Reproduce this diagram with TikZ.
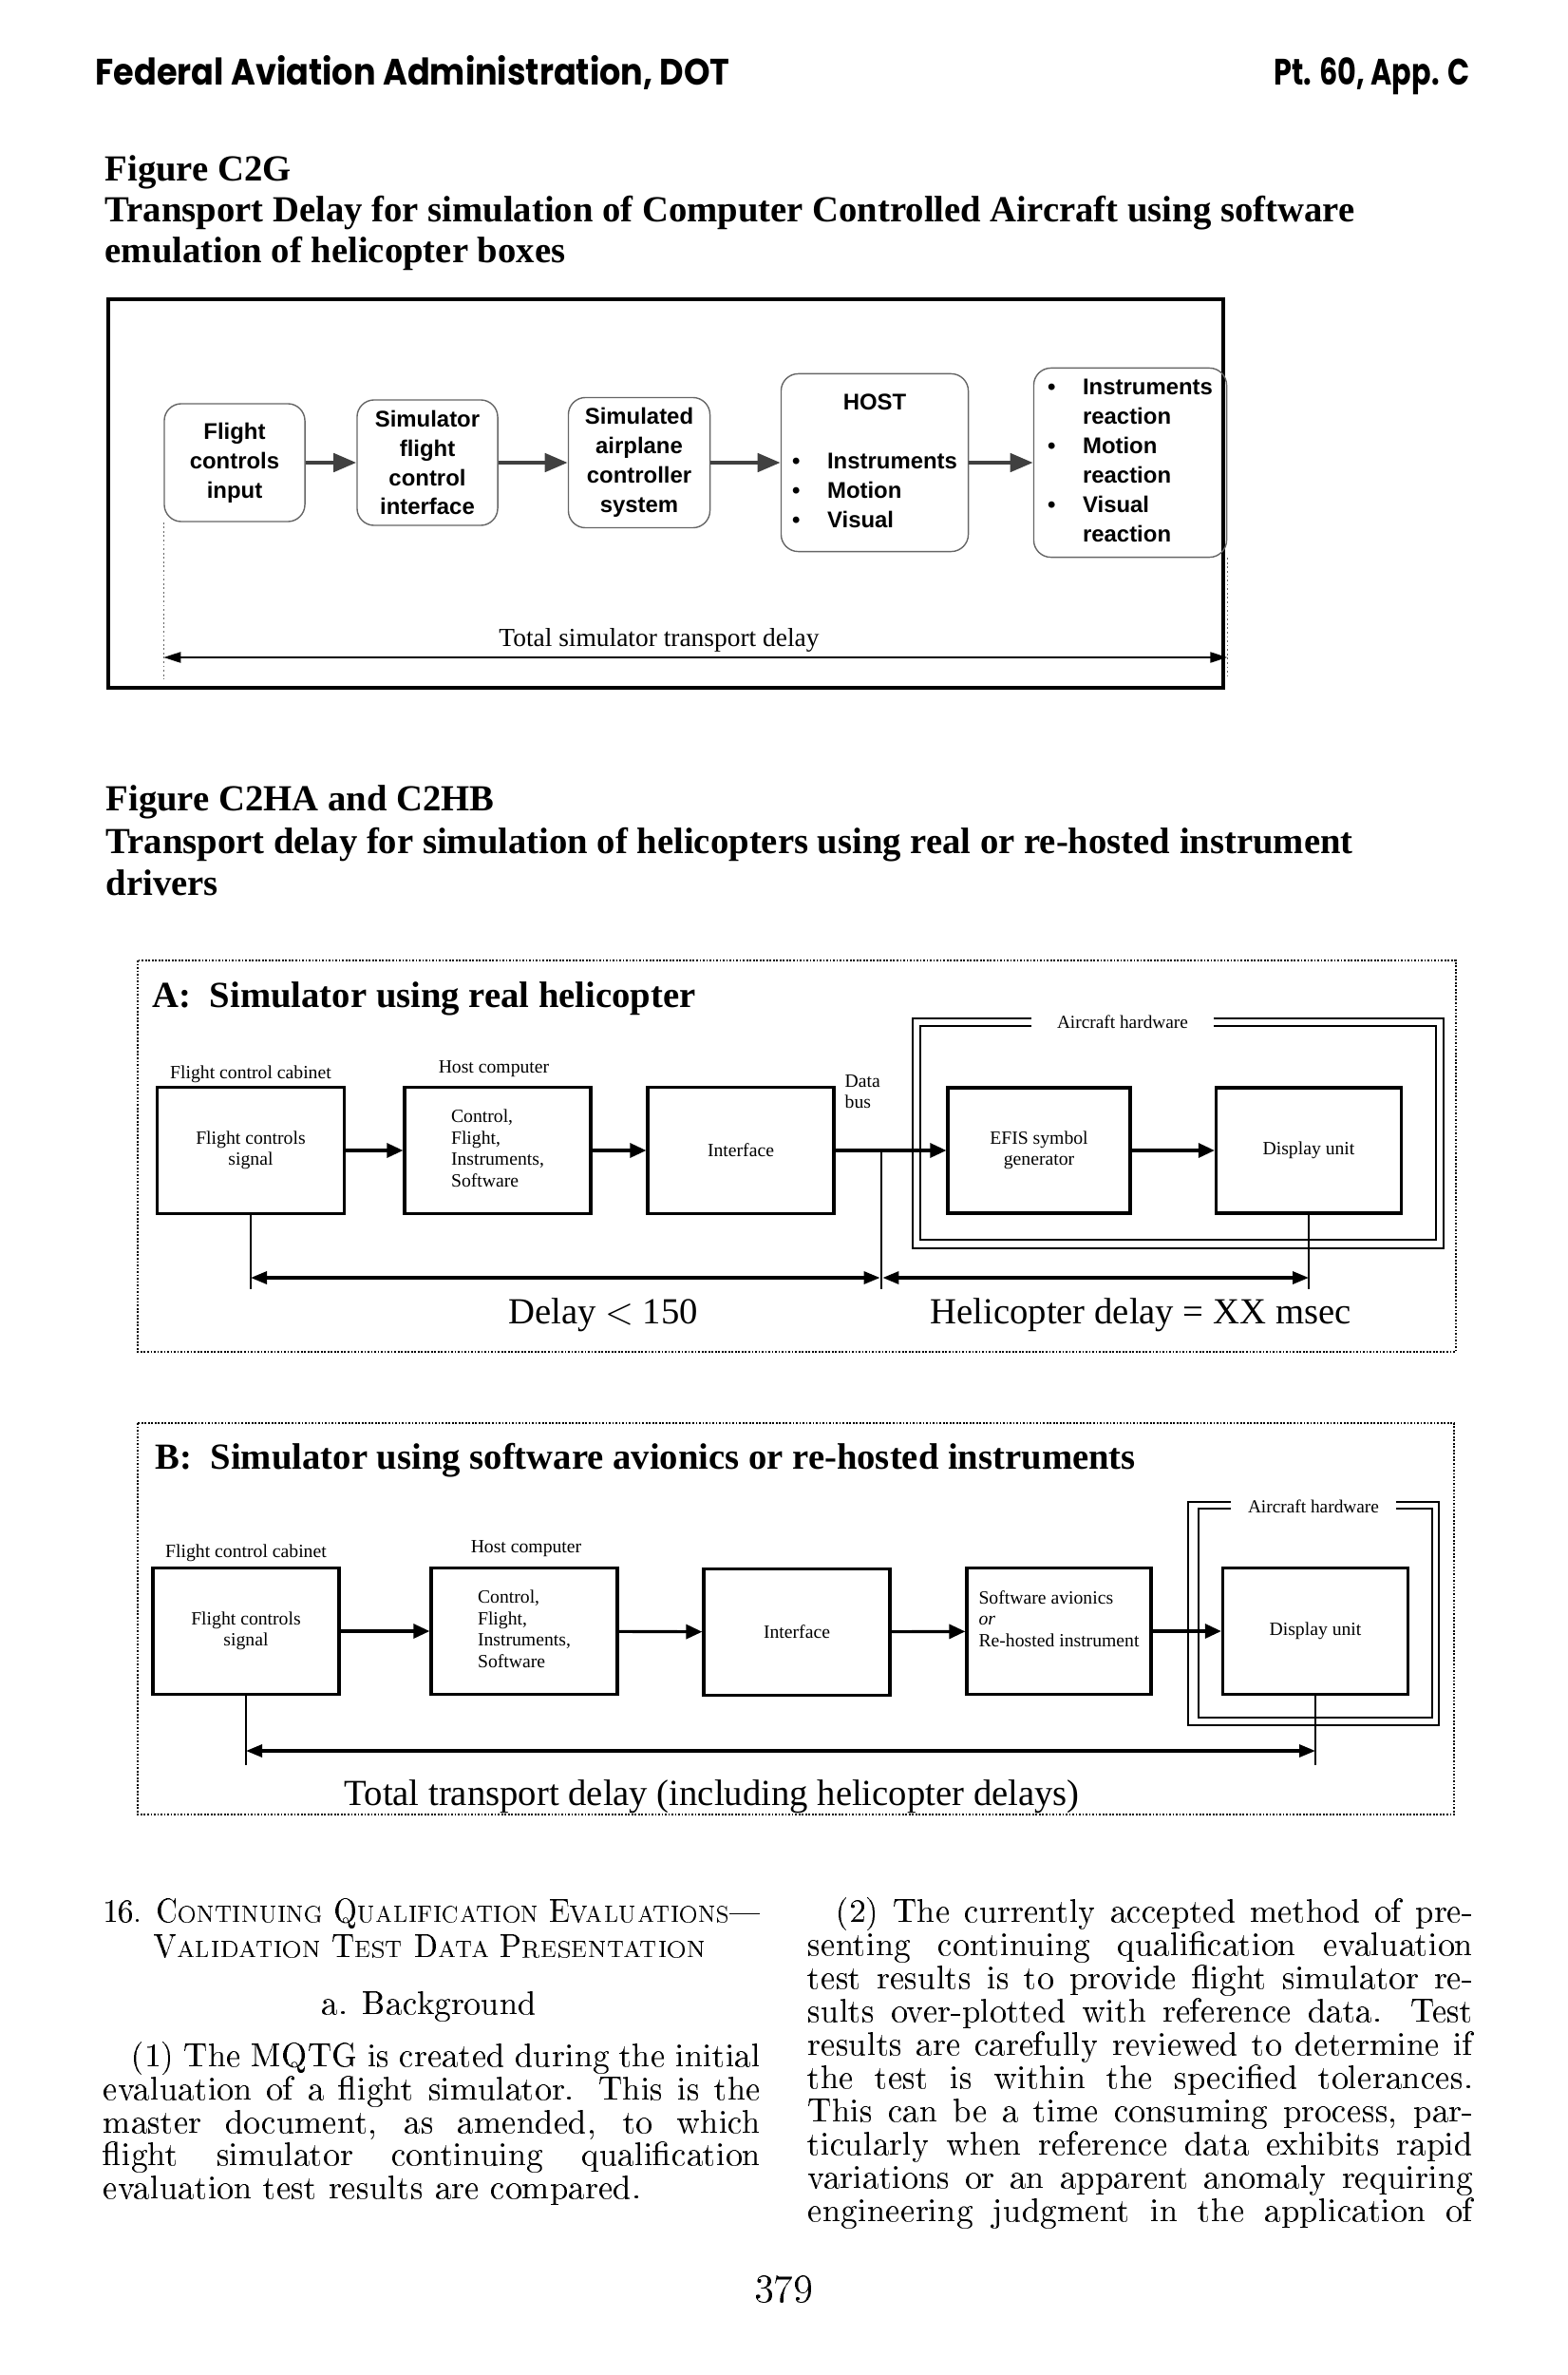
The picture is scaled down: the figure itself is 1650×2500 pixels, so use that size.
\documentclass[tikz,border=0pt]{standalone}
\usepackage[T1,TU]{fontenc}
\usepackage{fontspec}
\usetikzlibrary{arrows.meta,positioning}
\setmainfont{Liberation Serif}
\newfontfamily\hdfont{Poppins}
\newfontfamily\arialfont{Liberation Sans}
\newcommand{\bodyfont}{\fontencoding{T1}\fontfamily{qcs}\selectfont}
\newcommand{\jline}[2]{\makebox[#1][s]{#2}}
\newcommand{\smc}[1]{{\fontsize{6.9}{10}\selectfont #1}}

\tikzset{
  hdr/.style={font=\hdfont\bfseries\fontsize{11}{13}\selectfont, inner sep=0pt},
  ttl/.style={font=\bfseries\fontsize{11}{13}\selectfont, anchor=base west, inner sep=0pt},
  rbox/.style={draw=black!60, line width=0.4pt, rounded corners=0.18cm, align=center, inner sep=0pt,
    font=\arialfont\bfseries\fontsize{6.8}{8.8}\selectfont},
  bigarrow/.style={-{Triangle[length=2.4mm,width=1.9mm]}, line width=1.3pt, black!75},
  guide/.style={black!60, line width=0.4pt, dash pattern=on 0.5pt off 0.8pt},
  thinarrow/.style={{Triangle[length=1.8mm,width=1.1mm]}-{Triangle[length=1.8mm,width=1.1mm]}, line width=0.6pt},
  panel/.style={line width=0.6pt, dash pattern=on 0.5pt off 0.5pt},
  sqbox/.style={draw, line width=0.9pt, align=center, inner sep=0pt, font=\fontsize{5.6}{6.4}\selectfont},
  smallarrow/.style={-{Triangle[length=1.7mm,width=1.5mm]}, line width=0.9pt},
  delayarrow/.style={{Triangle[length=1.7mm,width=1.3mm]}-{Triangle[length=1.7mm,width=1.3mm]}, line width=0.9pt},
  hwline/.style={line width=0.7pt},
  lbl/.style={font=\fontsize{5.6}{6.4}\selectfont, inner sep=0pt},
  big/.style={font=\fontsize{11}{13}\selectfont, inner sep=0pt},
  body/.style={font=\bodyfont\fontsize{10.2}{10}\selectfont, anchor=base west, inner sep=0pt}
}

\begin{document}
\begin{tikzpicture}[x=0.01cm,y=-0.01cm]
        \useasboundingbox (0,0) rectangle (1650,2500);

        %Running head
        \node[hdr, anchor=base west] (faa) at (100,90) {\scalebox{0.906}[1]{Federal Aviation Administration, DOT}};
        \node[hdr, anchor=base east] (part) at (1548,90) {\scalebox{0.783}[1]{Pt. 60, App. C}};

        %Figure C2G title
        \node[ttl] (figa1) at (110,190) {Figure C2G};
        \node[ttl] (figa2) at (110,233) {Transport Delay for simulation of Computer Controlled Aircraft using software};
        \node[ttl] (figa3) at (110,277) {emulation of helicopter boxes};

        %Figure C2G frame
        \draw[line width=0.9pt] (114,315) rectangle (1288,724);

        %Figure C2G boxes
        \node[rbox, minimum width=1.48cm, minimum height=1.24cm] (fci) at (247,487) {Flight\\controls\\input};
        \node[rbox, minimum width=1.48cm, minimum height=1.32cm] (sfci) at (450,487) {Simulator\\flight\\control\\interface};
        \node[rbox, minimum width=1.49cm, minimum height=1.37cm] (sacs) at (673,487) {Simulated\\airplane\\controller\\system};
        \node[rbox, minimum width=1.97cm, minimum height=1.87cm] (host) at (921,487)
            {\begin{tabular}{@{}l@{}l@{}}\multicolumn{2}{c}{HOST}\\ & \\
             \makebox[0.37cm][l]{\textbullet} & Instruments\\ \textbullet & Motion\\ \textbullet & Visual\end{tabular}};
        \node[rbox, minimum width=2.03cm, minimum height=1.99cm] (react) at (1190,487)
            {\begin{tabular}{@{}l@{}l@{}}\makebox[0.37cm][l]{\textbullet} & Instruments\\ & reaction\\
             \textbullet & Motion\\ & reaction\\ \textbullet & Visual\\ & reaction\end{tabular}};

        %Figure C2G arrows
        \draw[bigarrow] (fci) -- (sfci);
        \draw[bigarrow] (sfci) -- (sacs);
        \draw[bigarrow] (sacs) -- (host);
        \draw[bigarrow] (host) -- (react);

        %Figure C2G transport delay
        \coordinate (c2gy) at (0,692);
        \coordinate (c2gend) at (0,715);
        \draw[guide] (fci.south west) -- (fci.south west |- c2gend);
        \draw[guide] (react.south east) -- (react.south east |- c2gend);
        \draw[thinarrow] (fci.south west |- c2gy) -- (react.south east |- c2gy);
        \node[font=\fontsize{7.8}{9}\selectfont, anchor=base, inner sep=0pt] (c2gdelay) at (694,680) {Total simulator transport delay};

        %Figure C2HA and C2HB title
        \node[ttl] (figb1) at (111,853) {Figure C2HA and C2HB};
        \node[ttl] (figb2) at (111,898) {Transport delay for simulation of helicopters using real or re-hosted instrument};
        \node[ttl] (figb3) at (111,942) {drivers};

        %Panel A
        \draw[panel] (145,1011) rectangle (1533,1423);
        \node[ttl] (atitle) at (160,1060) {A:\ \ Simulator using real helicopter};

        %Panel A aircraft hardware
        \node[lbl, font=\fontsize{5.5}{6.4}\selectfont] (ahwa) at (1182,1076) {Aircraft hardware};
        \draw[hwline] (1086,1072) -- (961,1072) -- (961,1314) -- (1520,1314) -- (1520,1072) -- (1278,1072);
        \draw[hwline] (1086,1080) -- (969,1080) -- (969,1305) -- (1512,1305) -- (1512,1080) -- (1278,1080);

        %Panel A boxes
        \node[sqbox, minimum width=1.97cm, minimum height=1.33cm] (fcsa) at (264,1211) {Flight controls\\signal};
        \node[sqbox, minimum width=1.96cm, minimum height=1.33cm] (hosta) at (524,1211) {\begin{tabular}{@{}l@{}}Control,\\Flight,\\Instruments,\\Software\end{tabular}};
        \node[sqbox, minimum width=1.96cm, minimum height=1.33cm] (intfa) at (780,1211) {Interface};
        \node[sqbox, minimum width=1.92cm, minimum height=1.32cm] (efisa) at (1094,1211) {EFIS symbol\\generator};
        \node[sqbox, minimum width=1.95cm, minimum height=1.32cm] (dispa) at (1378,1211) {Display unit};

        %Panel A labels
        \node[lbl] (fcca) at (264,1131) {Flight control cabinet};
        \node[lbl] (hca) at (520,1125) {Host computer};
        \node[lbl, align=left, anchor=west] (busa) at (889,1149) {Data\\bus};

        %Panel A arrows
        \draw[smallarrow] (fcsa) -- (hosta);
        \draw[smallarrow] (hosta) -- (intfa);
        \draw[smallarrow] (intfa) -- (efisa);
        \draw[smallarrow] (efisa) -- (dispa);

        %Panel A delays
        \coordinate (ya) at (0,1345);
        \coordinate (enda) at (0,1357);
        \coordinate (bus) at (928,1212);
        \draw[line width=0.6pt] (fcsa.south) -- (fcsa.south |- enda);
        \draw[line width=0.6pt] (bus) -- (bus |- enda);
        \draw[line width=0.6pt] (dispa.south) -- (dispa.south |- enda);
        \draw[delayarrow] (fcsa.south |- ya) -- ([xshift=-0.4pt]bus |- ya);
        \draw[delayarrow] ([xshift=0.4pt]bus |- ya) -- (dispa.south |- ya);
        \node[big, anchor=base] (dla) at (635,1393) {Delay $<$ 150};
        \node[big, anchor=base] (hda) at (1201,1393) {Helicopter delay = XX msec};

        %Panel B
        \draw[panel] (145,1498) rectangle (1531,1910);
        \node[ttl] (btitle) at (163,1546) {B:\ \ Simulator using software avionics or re-hosted instruments};

        %Panel B aircraft hardware
        \node[lbl, font=\fontsize{5.5}{6.4}\selectfont] (ahwb) at (1383,1586) {Aircraft hardware};
        \draw[hwline] (1296,1581) -- (1251,1581) -- (1251,1816) -- (1515,1816) -- (1515,1581) -- (1470,1581);
        \draw[hwline] (1296,1588) -- (1262,1588) -- (1262,1808) -- (1508,1808) -- (1508,1588) -- (1470,1588);

        %Panel B boxes
        \node[sqbox, minimum width=1.96cm, minimum height=1.33cm] (fcsb) at (259,1717) {Flight controls\\signal};
        \node[sqbox, minimum width=1.96cm, minimum height=1.33cm] (hostb) at (552,1717) {\begin{tabular}{@{}l@{}}Control,\\Flight,\\Instruments,\\Software\end{tabular}};
        \node[sqbox, minimum width=1.96cm, minimum height=1.33cm] (intfb) at (839,1718) {Interface};
        \node[sqbox, minimum width=1.94cm, minimum height=1.33cm] (swb) at (1115,1717) {\begin{tabular}{@{}l@{}}Software avionics\\\textit{or}\\Re-hosted instrument\\[6pt]\end{tabular}};
        \node[sqbox, minimum width=1.95cm, minimum height=1.33cm] (dispb) at (1385,1717) {Display unit};

        %Panel B labels
        \node[lbl] (fccb) at (259,1635) {Flight control cabinet};
        \node[lbl] (hcb) at (554,1630) {Host computer};

        %Panel B arrows
        \draw[smallarrow] (fcsb) -- (hostb);
        \draw[smallarrow] (hostb) -- (intfb);
        \draw[smallarrow] (intfb) -- (swb);
        \draw[smallarrow] (swb) -- (dispb);

        %Panel B delay
        \coordinate (yb) at (0,1843);
        \coordinate (endb) at (0,1858);
        \draw[line width=0.6pt] (fcsb.south) -- (fcsb.south |- endb);
        \draw[line width=0.6pt] (dispb.south) -- (dispb.south |- endb);
        \draw[delayarrow] (fcsb.south |- yb) -- (dispb.south |- yb);
        \node[big, anchor=base west] (tdb) at (362,1900) {Total transport delay (including helicopter delays)};

        %Text, left column
        \node[body] (l1) at (108,2023) {\resizebox{6.92cm}{\height}{16. C\smc{ONTINUING} Q\smc{UALIFICATION} E\smc{VALUATIONS}\textemdash}};
        \node[body, anchor=base] (l2) at (452,2060) {\scalebox{0.95}[1]{V\smc{ALIDATION} T\smc{EST} D\smc{ATA} P\smc{RESENTATION}}};
        \node[body, anchor=base] (l3) at (452,2120) {a. Background};
        \node[body] (l4) at (138,2175) {\jline{6.62cm}{(1) The MQTG is created during the initial}};
        \node[body] (l5) at (108,2210) {\jline{6.92cm}{evaluation of a flight simulator. This is the}};
        \node[body] (l6) at (108,2245) {\jline{6.92cm}{master document, as amended, to which}};
        \node[body] (l7) at (108,2279) {\jline{6.92cm}{flight simulator continuing qualification}};
        \node[body] (l8) at (108,2314) {evaluation test results are compared.};

        %Text, right column
        \node[body] (r1) at (880,2023) {\jline{6.7cm}{(2) The currently accepted method of pre-}};
        \node[body] (r2) at (850,2058) {\jline{7cm}{senting continuing qualification evaluation}};
        \node[body] (r3) at (850,2093) {\jline{7cm}{test results is to provide flight simulator re-}};
        \node[body] (r4) at (850,2128) {\jline{7cm}{sults over-plotted with reference data. Test}};
        \node[body] (r5) at (850,2163) {\jline{7cm}{results are carefully reviewed to determine if}};
        \node[body] (r6) at (850,2198) {\jline{7cm}{the test is within the specified tolerances.}};
        \node[body] (r7) at (850,2233) {\jline{7cm}{This can be a time consuming process, par-}};
        \node[body] (r8) at (850,2268) {\jline{7cm}{ticularly when reference data exhibits rapid}};
        \node[body] (r9) at (850,2303) {\jline{7cm}{variations or an apparent anomaly requiring}};
        \node[body] (r10) at (850,2338) {\jline{7cm}{engineering judgment in the application of}};

        %Page number
        \node[body, anchor=center, font=\bodyfont\fontsize{12}{14}\selectfont] (page) at (825,2410) {379};

\end{tikzpicture}
\end{document}
